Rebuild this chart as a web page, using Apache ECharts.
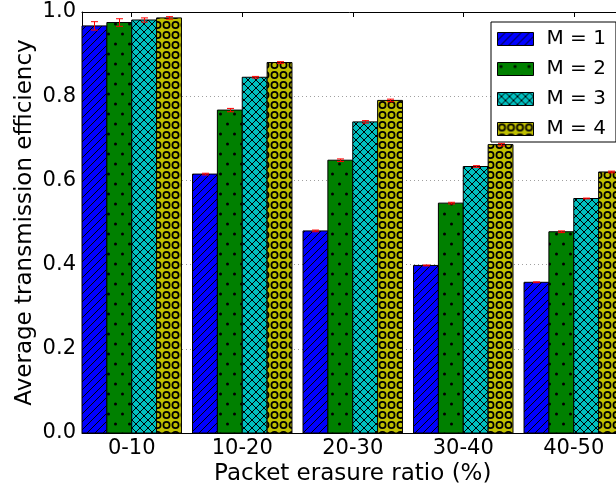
<!DOCTYPE html>
<html>
<head>
<meta charset="utf-8">
<script src="https://cdn.jsdelivr.net/npm/echarts@6/dist/echarts.min.js"></script>
<style>
  html, body { margin: 0; padding: 0; background: #fff; }
  #chart { width: 616px; height: 485px; }
</style>
</head>
<body>
<div id="chart"></div>
<script>
(function() {
  'use strict';

  // data
  var categories = ['0-10', '10-20', '20-30', '30-40', '40-50'];
  var seriesNames = ['M = 1', 'M = 2', 'M = 3', 'M = 4'];
  var m1 = [0.967, 0.615, 0.480, 0.398, 0.358];
  var m2 = [0.975, 0.767, 0.648, 0.546, 0.478];
  var m3 = [0.981, 0.845, 0.739, 0.633, 0.557];
  var m4 = [0.986, 0.880, 0.790, 0.685, 0.620];
  var e1 = [0.010, 0.002, 0.002, 0.001, 0.001];
  var e2 = [0.009, 0.004, 0.003, 0.002, 0.002];
  var e3 = [0.005, 0.002, 0.003, 0.002, 0.001];
  var e4 = [0.003, 0.002, 0.003, 0.003, 0.002];
  var yTicks = [0, 0.2, 0.4, 0.6, 0.8, 1.0];

  var values = [m1, m2, m3, m4];
  var errors = [e1, e2, e3, e4];
  var W = 0.225; // bar width in category units
  var FONT = 'DejaVu Sans';

  // hatch patterns (matplotlib style)
  function makePattern(bg, w, h, draw) {
    var c = document.createElement('canvas');
    c.width = w; c.height = h;
    var ctx = c.getContext('2d');
    ctx.fillStyle = bg;
    ctx.fillRect(0, 0, w, h);
    ctx.strokeStyle = '#000';
    ctx.fillStyle = '#000';
    ctx.lineWidth = 1;
    draw(ctx, w, h);
    return { image: c, repeat: 'repeat' };
  }

  function slash(ctx, w, h) {
    ctx.beginPath();
    ctx.moveTo(-1, h + 1); ctx.lineTo(w + 1, -1);
    ctx.moveTo(-1, 1); ctx.lineTo(1, -1);
    ctx.moveTo(w - 1, h + 1); ctx.lineTo(w + 1, h - 1);
    ctx.stroke();
  }

  var patterns = [
    makePattern('#0000ff', 8, 8, slash),
    makePattern('#008000', 14, 20, function(ctx) {
      ctx.beginPath(); ctx.arc(3.5, 4, 1.5, 0, Math.PI * 2); ctx.fill();
      ctx.beginPath(); ctx.arc(10.5, 14, 1.5, 0, Math.PI * 2); ctx.fill();
    }),
    makePattern('#00bfbf', 8, 8, function(ctx, w, h) {
      slash(ctx, w, h);
      ctx.beginPath();
      ctx.moveTo(-1, -1); ctx.lineTo(w + 1, h + 1);
      ctx.moveTo(w - 1, -1); ctx.lineTo(w + 1, 1);
      ctx.moveTo(-1, h - 1); ctx.lineTo(1, h + 1);
      ctx.stroke();
    }),
    makePattern('#bfbf00', 9, 10, function(ctx) {
      ctx.lineWidth = 1.7;
      ctx.beginPath(); ctx.arc(4.5, 5, 3.1, 0, Math.PI * 2); ctx.stroke();
    })
  ];

  var tickPos = categories.map(function(c, i) { return i + 2 * W; });

  function renderBar(k) {
    return function(params, api) {
      var i = api.value(0);
      var v = api.value(1);
      var err = api.value(2);
      var x0 = i + k * W;
      var p0 = api.coord([x0, v]);
      var p1 = api.coord([x0 + W, 0]);
      var top = api.coord([x0 + W / 2, v + err]);
      var bot = api.coord([x0 + W / 2, v - err]);
      var cx = Math.round(top[0]) + 0.5;
      var style = api.style();
      style.stroke = '#000';
      style.lineWidth = 1;
      return {
        type: 'group',
        children: [
          { type: 'rect', shape: { x: p0[0], y: p0[1], width: p1[0] - p0[0], height: p1[1] - p0[1] }, style: style },
          { type: 'line', shape: { x1: cx, y1: top[1], x2: cx, y2: bot[1] }, style: { stroke: '#ff0000', lineWidth: 1 } },
          { type: 'line', shape: { x1: cx - 3.5, y1: top[1], x2: cx + 3.5, y2: top[1] }, style: { stroke: '#ff0000', lineWidth: 1 } },
          { type: 'line', shape: { x1: cx - 3.5, y1: bot[1], x2: cx + 3.5, y2: bot[1] }, style: { stroke: '#ff0000', lineWidth: 1 } }
        ]
      };
    };
  }

  var series = seriesNames.map(function(name, k) {
    return {
      type: 'custom',
      name: name,
      renderItem: renderBar(k),
      itemStyle: { color: patterns[k], borderColor: '#000', borderWidth: 1 },
      encode: { x: 0, y: 1 },
      clip: false,
      data: categories.map(function(c, i) { return [i, values[k][i], errors[k][i]]; })
    };
  });

  var chart = echarts.init(document.getElementById('chart'), null, { renderer: 'canvas' });

  var axisLineStyle = { lineStyle: { color: '#000', width: 1 } };

  chart.setOption({
    animation: false,
    backgroundColor: '#fff',
    textStyle: { fontFamily: FONT, color: '#000' },
    // plot runs past the right edge of the window, as in the original
    grid: { left: 82, top: 12, width: 541.5, height: 421, containLabel: false, outerBoundsMode: 'none' },
    legend: {
      orient: 'vertical',
      left: 491,
      top: 22,
      icon: 'rect',
      itemWidth: 36,
      itemHeight: 13,
      itemGap: 10,
      padding: [7, 10, 3, 6],
      borderColor: '#000',
      borderWidth: 1,
      backgroundColor: '#fff',
      itemStyle: { borderColor: '#000', borderWidth: 1 },
      textStyle: { fontFamily: FONT, fontSize: 20, lineHeight: 20, color: '#000', padding: [0, 0, 0, 8] },
      data: seriesNames
    },
    xAxis: [
      {
        type: 'value',
        min: 0,
        max: categories.length - 1 + 4 * W,
        position: 'bottom',
        name: 'Packet erasure ratio (%)',
        nameLocation: 'middle',
        nameGap: 30,
        nameMoveOverlap: false,
        nameTextStyle: { fontFamily: FONT, fontSize: 23, color: '#000' },
        axisLine: axisLineStyle,
        axisTick: { show: true, inside: true, length: 5, customValues: tickPos, lineStyle: { color: '#000' } },
        axisLabel: {
          customValues: tickPos,
          margin: 5,
          fontFamily: FONT,
          fontSize: 21,
          color: '#000',
          formatter: function(v) { return categories[Math.round(v - 2 * W)]; }
        },
        splitLine: { show: false }
      },
      {
        type: 'value',
        min: 0,
        max: categories.length - 1 + 4 * W,
        position: 'top',
        axisLine: axisLineStyle,
        axisTick: { show: true, inside: true, length: 5, customValues: tickPos, lineStyle: { color: '#000' } },
        axisLabel: { show: false },
        splitLine: { show: false }
      }
    ],
    yAxis: {
      type: 'value',
      min: 0,
      max: 1,
      interval: 0.2,
      name: 'Average transmission efficiency',
      nameLocation: 'middle',
      nameGap: 45,
      nameMoveOverlap: false,
      nameTextStyle: { fontFamily: FONT, fontSize: 23, color: '#000' },
      axisLine: { show: true, lineStyle: { color: '#000', width: 1 } },
      axisTick: { show: true, inside: true, length: 5, customValues: yTicks, lineStyle: { color: '#000' } },
      axisLabel: {
        margin: 6,
        fontFamily: FONT,
        fontSize: 21,
        color: '#000',
        formatter: function(v) { return v.toFixed(1); }
      },
      splitLine: { show: true, lineStyle: { color: '#a0a0a0', width: 1, type: [1, 3] } }
    },
    series: series
  });

  window.addEventListener('resize', function() { chart.resize(); });
})();
</script>
</body>
</html>
